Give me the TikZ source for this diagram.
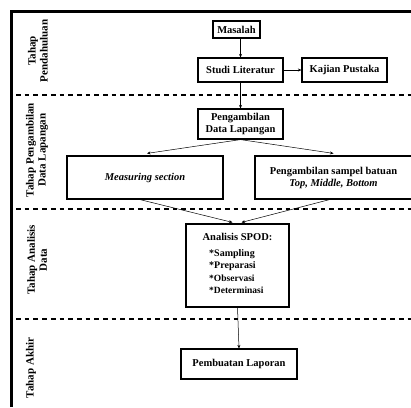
\documentclass[tikz,border=0pt]{standalone}
\usepackage{fontspec}
\setmainfont{Liberation Serif}
\usetikzlibrary{arrows.meta,calc}
\begin{document}
\begin{tikzpicture}[x=1pt,y=-1pt,
  box/.style={draw,line width=1.2pt,font=\bfseries\fontsize{10.5}{12}\selectfont,inner sep=0pt,align=center},
  arr/.style={-{Stealth[length=3.5pt,width=3pt]},line width=0.5pt},
  lane/.style={rotate=90,font=\bfseries\fontsize{11}{12}\selectfont,align=center,inner sep=0pt},
  item/.style={anchor=west,inner sep=0pt,font=\bfseries\fontsize{10}{12}\selectfont},
  sep/.style={line width=1.8pt,dash pattern=on 4.7pt off 4pt}]
\useasboundingbox (0,0) rectangle (411,407);
\clip (0,0) rectangle (411,407);
% frame
\draw[line width=2.2pt] (11.5,407) -- (11.5,11.5) -- (411,11.5);
\draw[sep] (16,95) -- (411,95);
\draw[sep] (16,209) -- (411,209);
\draw[sep] (16,319) -- (411,319);
% lane labels
\node[lane] (l1) at (38,51) {Tahap\\Pendahuluan};
\node[lane] (l2) at (37,150) {Tahap Pengambilan\\Data Lapangan};
\node[lane] (l3) at (37,260) {Tahap Analisis\\Data};
\node[lane] (l4) at (31,368) {Tahap Akhir};
% boxes
\node[box,minimum width=47,minimum height=17] (mas) at (236.5,29.5) {Masalah};
\node[box,minimum width=85,minimum height=24] (stu) at (240.5,70) {Studi Literatur};
\node[box,minimum width=85,minimum height=24] (kaj) at (344.5,70) {Kajian Pustaka};
\node[box,minimum width=85,minimum height=30] (pdl) at (240.5,124) {Pengambilan\\Data Lapangan};
\node[box,minimum width=156,minimum height=43] (mea) at (145,177.5) {\itshape Measuring section};
\node[box,minimum width=157,minimum height=43] (sam) at (333.5,177.5) {Pengambilan sampel batuan\\\itshape Top, Middle, Bottom};
\node[box,minimum width=103,minimum height=83] (spod) at (237.5,265.5) {};
\node[box,minimum width=116,minimum height=30] (lap) at (239,364) {Pembuatan Laporan};
% SPOD contents
\node[inner sep=0pt,font=\bfseries\fontsize{10.5}{12}\selectfont] (st) at (237.5,237) {Analisis SPOD:};
\node[item] (s1) at (209,254) {*Sampling};
\node[item] (s2) at (209,266) {*Preparasi};
\node[item,font=\bfseries\fontsize{9.5}{12}\selectfont] (s3) at (209,278) {*Observasi};
\node[item,font=\bfseries\fontsize{9.5}{12}\selectfont] (s4) at (209,290) {*Determinasi};
% arrows
\draw[arr] (mas.south -| stu.north) -- (stu.north);
\draw[arr] (stu.east) -- (kaj.west);
\draw[arr] (stu.south) -- (pdl.north);
\draw[arr] (pdl.south) -- ($(mea.north)+(2,-2)$);
\draw[arr] (pdl.south) -- ($(sam.north)+(0,-2)$);
\draw[arr] ($(mea.south)+(-5,0)$) -- ($(spod.north)+(-5,-1)$);
\draw[arr] ($(sam.south)+(-4,0)$) -- ($(spod.north)+(4,-1)$);
\draw[arr] (spod.south) -- (lap.north);
\end{tikzpicture}
\end{document}
